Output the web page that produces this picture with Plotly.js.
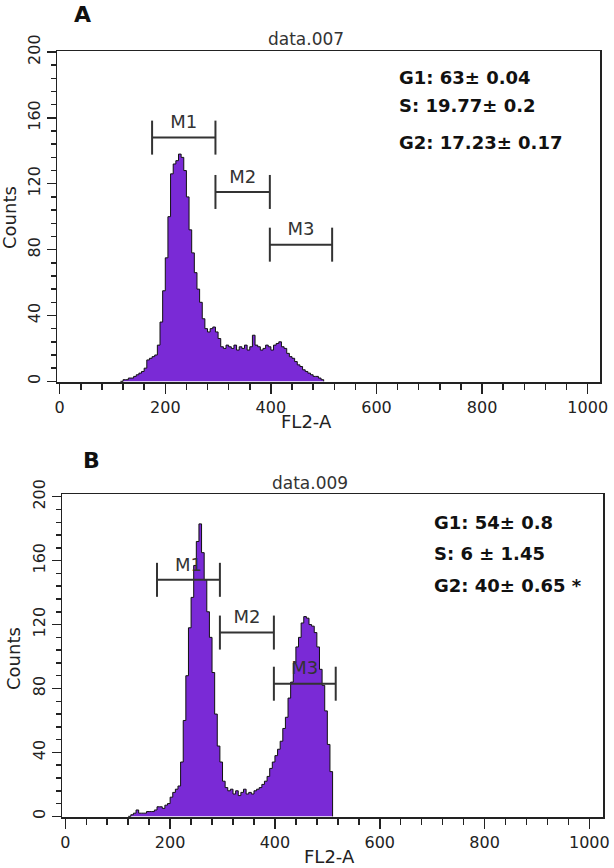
<!DOCTYPE html>
<html><head><meta charset="utf-8">
<script src="https://cdn.plot.ly/plotly-3.0.1.min.js"></script>
<style>html,body{margin:0;padding:0;background:#fff}#chart{width:614px;height:868px}</style>
</head><body><div id="chart"></div>
<script>
// ---- data ----
const channelA = [115,120,125,130,135,140,145,150,155,160,165,170,175,180,185,190,195,200,205,210,215,220,225,230,235,240,245,250,255,260,265,270,275,280,285,290,295,300,305,310,315,320,325,330,335,340,345,350,355,360,365,370,375,380,385,390,395,400,405,410,415,420,425,430,435,440,445,450,455,460,465,470,475,480,485,490,495,500];
const countsA  = [0,1,1,2,2,3,4,5,6,8,13,14,15,16,22,36,55,75,100,126,132,134,138,136,128,112,92,78,66,56,48,38,32,30,32,33,30,26,21,20,22,21,20,22,19,21,20,22,19,21,28,22,21,19,20,22,21,19,22,23,24,21,20,17,15,14,12,10,9,7,6,5,4,3,3,2,1,0];
const channelB = [120,125,130,135,140,145,150,155,160,165,170,175,180,185,190,195,200,205,210,215,220,225,230,235,240,245,250,255,260,265,270,275,280,285,290,295,300,305,310,315,320,325,330,335,340,345,350,355,360,365,370,375,380,385,390,395,400,405,410,415,420,425,430,435,440,445,450,455,460,465,470,475,480,485,490,495,500,505,510];
const countsB  = [0,1,2,4,2,2,2,3,3,3,4,6,6,5,7,8,12,15,17,19,34,60,88,118,137,157,172,183,165,148,128,112,90,64,44,34,22,18,16,17,14,16,13,15,17,14,15,14,16,17,18,20,22,25,30,34,38,42,47,55,62,74,84,96,106,112,121,125,124,120,119,115,106,92,82,66,45,28,0];

const gateNames = ['M1','M2','M3'];
const gateStart = [175,295,398];
const gateEnd   = [295,398,516];
const gateLevel = [148,115,83];

const fileNames    = ['data.007','data.009'];
const panelLetters = ['A','B'];
const statsA = ['G1: 63± 0.04','S: 19.77± 0.2','G2: 17.23± 0.17'];
const statsB = ['G1: 54± 0.8','S: 6 ± 1.45','G2: 40± 0.65 *'];
const xTickVals = [0,200,400,600,800,1000];
const yTickVals = [0,40,80,120,160,200];
const xTitle = 'FL2-A';
const yTitle = 'Counts';

// ---- styling / layout ----
const W = 614, H = 868;
const FONT = 'DejaVu Sans, Verdana, sans-serif';
const PURPLE = '#7a2ad6';
const px = (x) => x / W, py = (y) => 1 - y / H;

function axisX(domain, range, anchor){
  return {domain, range, anchor, showline:true, mirror:true, linecolor:'#222', linewidth:1.5,
    ticks:'outside', ticklen:10, tickwidth:1.5, tickcolor:'#222',
    tickvals:xTickVals, showgrid:false, zeroline:false,
    minor:{dtick:40, ticks:'outside', ticklen:6, tickwidth:1.5, tickcolor:'#222', showgrid:false},
    tickfont:{family:FONT, size:16, color:'#222'}, fixedrange:true};
}
function axisY(domain, range, anchor){
  return {domain, range, anchor, showline:true, mirror:true, linecolor:'#222', linewidth:1.5,
    ticks:'outside', ticklen:9, tickwidth:1.5, tickcolor:'#222',
    tickvals:yTickVals, tickangle:-90, showgrid:false, zeroline:false,
    minor:{dtick:8, ticks:'outside', ticklen:5, tickwidth:1.5, tickcolor:'#222', showgrid:false},
    tickfont:{family:FONT, size:16, color:'#222'}, fixedrange:true};
}

const panels = [
  {ch:channelA, ct:countsA, xa:'x', ya:'y', stats:statsA},
  {ch:channelB, ct:countsB, xa:'x2', ya:'y2', stats:statsB}
];

const traces = [];
const shapes = [];
panels.forEach((p) => {
  traces.push({
    type:'scatter', mode:'lines', xaxis:p.xa, yaxis:p.ya,
    x:p.ch, y:p.ct, line:{shape:'hv', color:'#111', width:1},
    fill:'tozeroy', fillcolor:PURPLE, hoverinfo:'skip', showlegend:false
  });
  traces.push({
    type:'scatter', mode:'text', xaxis:p.xa, yaxis:p.ya,
    x: gateStart.map((s,i)=>(s+gateEnd[i])/2),
    y: gateLevel.map(l=>l+3),
    text: gateNames, textposition:'top center',
    textfont:{family:FONT, size:18, color:'#333'}, hoverinfo:'skip', showlegend:false
  });
  gateNames.forEach((g,i) => {
    const ln = {color:'#333', width:2};
    shapes.push({type:'line', xref:p.xa, yref:p.ya, x0:gateStart[i], x1:gateEnd[i], y0:gateLevel[i], y1:gateLevel[i], line:ln});
    [gateStart[i], gateEnd[i]].forEach(xv => {
      shapes.push({type:'line', xref:p.xa, yref:p.ya, x0:xv, x1:xv, ysizemode:'pixel', yanchor:gateLevel[i], y0:-17, y1:17, line:ln});
    });
  });
});

const ann = [];
const txt = (text, x, y, opt={}) => ann.push(Object.assign({text, xref:'paper', yref:'paper', x:px(x), y:py(y),
  showarrow:false, xanchor:'center', yanchor:'middle', font:{family:FONT, size:18, color:'#333'}}, opt));

txt('<b>'+panelLetters[0]+'</b>', 82, 15, {font:{family:FONT, size:22, color:'#111'}});
txt('<b>'+panelLetters[1]+'</b>', 91, 460, {font:{family:FONT, size:22, color:'#111'}});
txt(fileNames[0], 306, 39, {font:{family:FONT, size:17, color:'#333'}});
txt(fileNames[1], 310, 483, {font:{family:FONT, size:17, color:'#333'}});
txt(yTitle, 10, 218, {textangle:-90, font:{family:FONT, size:18, color:'#222'}});
txt(yTitle, 13, 659, {textangle:-90, font:{family:FONT, size:18, color:'#222'}});
txt(xTitle, 306, 421, {font:{family:FONT, size:18, color:'#222'}});
txt(xTitle, 329, 856, {font:{family:FONT, size:18, color:'#222'}});
const statY = [[77,105,142],[522,553,585]];
const statX = [397, 432];
panels.forEach((p,k) => p.stats.forEach((s,i) =>
  txt('<b>'+s+'</b>', statX[k], statY[k][i], {xanchor:'left', font:{family:FONT, size:18, color:'#111'}})));

const layout = {
  width:W, height:H, margin:{l:0,r:0,t:0,b:0}, paper_bgcolor:'#fff', plot_bgcolor:'#fff',
  showlegend:false,
  xaxis: axisX([px(57), px(600)], [-5.1, 1023.3], 'y'),
  yaxis: axisY([py(382), py(51)], [-0.4, 200.6], 'x'),
  xaxis2: axisX([px(62), px(603)], [-6.3, 1026], 'y2'),
  yaxis2: axisY([py(817), py(494)], [-0.4, 201.7], 'x2'),
  shapes, annotations:ann
};
Plotly.newPlot('chart', traces, layout, {staticPlot:true, displayModeBar:false});
</script></body></html>
